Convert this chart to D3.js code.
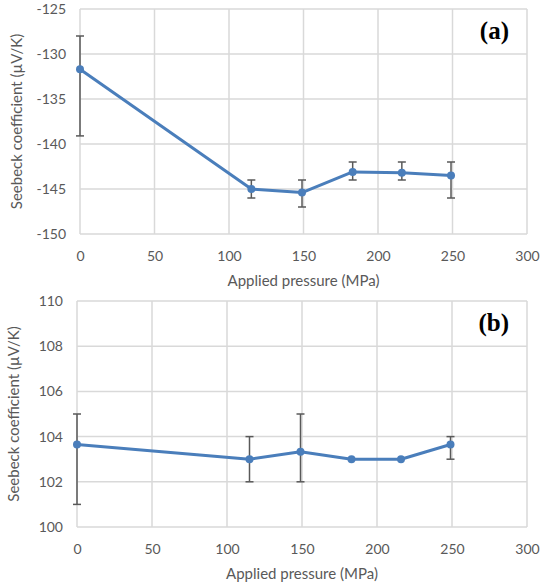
<!DOCTYPE html>
<html lang="en">
<head>
<meta charset="UTF-8">
<title>Seebeck coefficient vs pressure</title>
<script src="https://cdn.jsdelivr.net/npm/d3@7"></script>
<style>
	body { margin: 0; background: #fff; }
	svg { display: block; font-family: Lato, "Open Sans", sans-serif; }
	.tick text { fill: #595959; font-size: 14px; }
</style>
</head>
<body>
<svg id="chart" width="548" height="587"></svg>
<script>
	// pressure values (MPa), shared by both panels
	let pressure = [0, 115, 149, 183, 216, 249];

	// panel (a)
	let seebeckA = [-131.7, -145.0, -145.4, -143.1, -143.2, -143.5];
	let errHighA = [-128.0, -144.0, -144.0, -142.0, -142.0, -142.0];
	let errLowA  = [-139.1, -146.0, -147.0, -144.0, -144.0, -146.0];
	let yTicksA  = [-150, -145, -140, -135, -130, -125];

	// panel (b)
	let seebeckB = [103.65, 103.0, 103.33, 103.0, 103.0, 103.65];
	let errHighB = [105.0, 104.0, 105.0, 103.0, 103.0, 104.0];
	let errLowB  = [101.0, 102.0, 102.0, 103.0, 103.0, 103.0];
	let yTicksB  = [100, 102, 104, 106, 108, 110];

	let xTicks = [0, 50, 100, 150, 200, 250, 300];

	let svg = d3.select("#chart");

	function panel(opt) {
		let x = d3.scaleLinear().domain([0, 300]).range([opt.left, opt.right]);
		let y = d3.scaleLinear().domain(d3.extent(opt.yTicks)).range([opt.bottom, opt.top]);
		let g = svg.append("g");

		// gridlines
		g.selectAll(".vg").data(xTicks).enter().append("line")
			.attr("x1", d => x(d)).attr("x2", d => x(d))
			.attr("y1", opt.top).attr("y2", opt.bottom)
			.attr("stroke", "#d9d9d9").attr("stroke-width", 1.5);
		g.selectAll(".hg").data(opt.yTicks).enter().append("line")
			.attr("x1", opt.left).attr("x2", opt.right)
			.attr("y1", d => y(d)).attr("y2", d => y(d))
			.attr("stroke", "#d9d9d9").attr("stroke-width", 1.5);

		// axes (labels only), plain hyphen minus like the original
		let ax = g.append("g").attr("transform", "translate(0," + opt.bottom + ")")
			.call(d3.axisBottom(x).tickValues(xTicks).tickSize(0).tickPadding(17).tickFormat(d => String(d)));
		ax.select(".domain").remove();
		let ay = g.append("g").attr("transform", "translate(" + opt.left + ",0)")
			.call(d3.axisLeft(y).tickValues(opt.yTicks).tickSize(0).tickPadding(14).tickFormat(d => String(d)));
		ay.select(".domain").remove();
		g.selectAll(".tick text").attr("font-family", "Lato, sans-serif");

		// axis titles
		g.append("text")
			.attr("x", (opt.left + opt.right) / 2).attr("y", opt.bottom + 52)
			.attr("text-anchor", "middle").attr("fill", "#595959").attr("font-size", 15)
			.text("Applied pressure (MPa)");
		g.append("text")
			.attr("transform", "translate(" + (opt.left - 58) + "," + ((opt.top + opt.bottom) / 2) + ") rotate(-90)")
			.attr("text-anchor", "middle").attr("fill", "#595959").attr("font-size", 15)
			.text("Seebeck coefficient (\u00b5V/K)");

		// error bars
		let eb = g.selectAll(".eb").data(pressure).enter().append("g");
		eb.append("line")
			.attr("x1", d => x(d)).attr("x2", d => x(d))
			.attr("y1", (d, i) => y(opt.hi[i])).attr("y2", (d, i) => y(opt.lo[i]))
			.attr("stroke", "#595959").attr("stroke-width", 1.5);
		eb.append("line")
			.attr("x1", d => x(d) - 4).attr("x2", d => x(d) + 4)
			.attr("y1", (d, i) => y(opt.hi[i])).attr("y2", (d, i) => y(opt.hi[i]))
			.attr("stroke", "#595959").attr("stroke-width", 1.5);
		eb.append("line")
			.attr("x1", d => x(d) - 4).attr("x2", d => x(d) + 4)
			.attr("y1", (d, i) => y(opt.lo[i])).attr("y2", (d, i) => y(opt.lo[i]))
			.attr("stroke", "#595959").attr("stroke-width", 1.5);

		// line + markers
		let line = d3.line().x((d, i) => x(pressure[i])).y(d => y(d));
		g.append("path").datum(opt.vals)
			.attr("d", line).attr("fill", "none")
			.attr("stroke", "#4a7ebb").attr("stroke-width", 3).attr("stroke-linejoin", "round");
		g.selectAll(".pt").data(opt.vals).enter().append("circle")
			.attr("cx", (d, i) => x(pressure[i])).attr("cy", d => y(d))
			.attr("r", 4).attr("fill", "#4a7ebb");

		// panel label
		g.append("text")
			.attr("x", opt.right - 18).attr("y", opt.top + 30)
			.attr("text-anchor", "end")
			.attr("font-family", "'Liberation Serif', 'Times New Roman', serif")
			.attr("font-weight", "bold").attr("font-size", 25)
			.text(opt.label);
	}

	panel({ left: 80, right: 527, top: 9, bottom: 234, yTicks: yTicksA,
		vals: seebeckA, hi: errHighA, lo: errLowA, label: "(a)" });
	panel({ left: 77, right: 527, top: 301, bottom: 527, yTicks: yTicksB,
		vals: seebeckB, hi: errHighB, lo: errLowB, label: "(b)" });
</script>
</body>
</html>
